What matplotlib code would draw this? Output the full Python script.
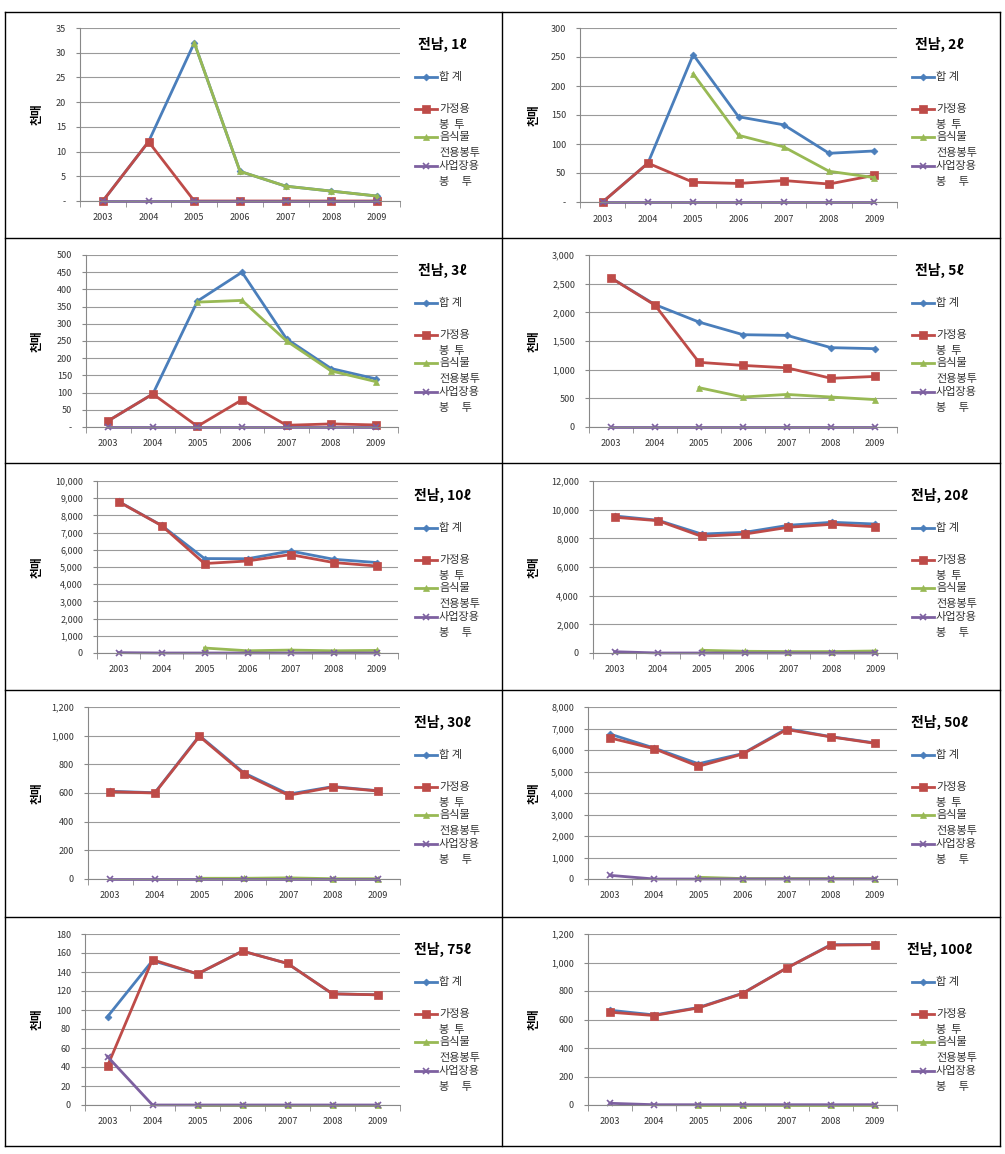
import numpy as np
import matplotlib
matplotlib.use("Agg")
from matplotlib import pyplot as plt
from matplotlib.lines import Line2D
from matplotlib.ticker import FuncFormatter, MultipleLocator, FixedLocator

plt.rcParams['font.family'] = ['Noto Sans CJK KR', 'DejaVu Sans']

years = ['2003', '2004', '2005', '2006', '2007', '2008', '2009']
series_names = ['합 계', '가정용', '음식물', '사업장용']
second_lines = ['', '봉  투', '전용봉투', '봉     투']
n = None

# ---- 전남, 1ℓ
p1_total = [0, 12, 32, 6, 3, 2, 1]
p1_home = [0, 12, 0, 0, 0, 0, 0]
p1_food = [n, n, 32, 6, 3, 2, 1]
p1_biz = [0, 0, 0, 0, 0, 0, 0]
# ---- 전남, 2ℓ
p2_total = [0, 67, 254, 147, 133, 84, 88]
p2_home = [0, 67, 34, 32, 37, 31, 46]
p2_food = [n, n, 221, 115, 95, 53, 42]
p2_biz = [0, 0, 0, 0, 0, 0, 0]
# ---- 전남, 3ℓ
p3_total = [18, 96, 366, 450, 256, 170, 140]
p3_home = [18, 96, 2, 79, 5, 9, 6]
p3_food = [n, n, 363, 368, 250, 163, 132]
p3_biz = [0, 0, 0, 0, 0, 0, 0]
# ---- 전남, 5ℓ
p4_total = [2600, 2135, 1830, 1610, 1598, 1384, 1366]
p4_home = [2600, 2125, 1128, 1074, 1033, 849, 882]
p4_food = [n, n, 686, 523, 568, 523, 478]
p4_biz = [0, 0, 0, 0, 0, 0, 0]
# ---- 전남, 10ℓ
p5_total = [8810, 7420, 5490, 5480, 5930, 5450, 5260]
p5_home = [8800, 7410, 5200, 5350, 5720, 5260, 5060]
p5_food = [n, n, 290, 130, 170, 130, 150]
p5_biz = [20, 0, 0, 0, 0, 0, 0]
# ---- 전남, 20ℓ
p6_total = [9560, 9260, 8300, 8420, 8910, 9120, 9000]
p6_home = [9470, 9230, 8140, 8300, 8770, 8980, 8810]
p6_food = [n, n, 190, 120, 100, 100, 140]
p6_biz = [90, 0, 0, 0, 0, 0, 0]
# ---- 전남, 30ℓ
p7_total = [612, 602, 1000, 740, 592, 645, 616]
p7_home = [609, 600, 995, 733, 584, 642, 614]
p7_food = [n, n, 5, 5, 8, 2, 2]
p7_biz = [2, 2, 2, 2, 2, 2, 2]
# ---- 전남, 50ℓ
p8_total = [6740, 6090, 5360, 5830, 6990, 6620, 6330]
p8_home = [6560, 6060, 5240, 5810, 6950, 6610, 6310]
p8_food = [n, n, 80, 20, 20, 20, 20]
p8_biz = [170, 0, 0, 0, 0, 0, 0]
# ---- 전남, 75ℓ
p9_total = [93, 152, 138, 162, 149, 117, 116]
p9_home = [41, 153, 138, 162, 149, 117, 116]
p9_food = [n, n, 0, 0, 0, 0, 0]
p9_biz = [51, 0, 0, 0, 0, 0, 0]
# ---- 전남, 100ℓ
p10_total = [665, 632, 684, 784, 961, 1125, 1127]
p10_home = [651, 628, 681, 782, 961, 1122, 1125]
p10_food = [n, n, 2, 2, 2, 2, 2]
p10_biz = [12, 2, 2, 2, 2, 2, 2]

titles = ['전남, 1ℓ', '전남, 2ℓ', '전남, 3ℓ', '전남, 5ℓ', '전남, 10ℓ',
          '전남, 20ℓ', '전남, 30ℓ', '전남, 50ℓ', '전남, 75ℓ', '전남, 100ℓ']
y_max = [35, 300, 500, 3000, 10000, 12000, 1200, 8000, 180, 1200]
y_step = [5, 50, 50, 500, 1000, 2000, 200, 1000, 20, 200]
dash_zero = [True, True, True, False, False, False, False, False, False, False]

panel_data = [
    (p1_total, p1_home, p1_food, p1_biz),
    (p2_total, p2_home, p2_food, p2_biz),
    (p3_total, p3_home, p3_food, p3_biz),
    (p4_total, p4_home, p4_food, p4_biz),
    (p5_total, p5_home, p5_food, p5_biz),
    (p6_total, p6_home, p6_food, p6_biz),
    (p7_total, p7_home, p7_food, p7_biz),
    (p8_total, p8_home, p8_food, p8_biz),
    (p9_total, p9_home, p9_food, p9_biz),
    (p10_total, p10_home, p10_food, p10_biz),
]

colors = ['#4A7EBB', '#BE4B48', '#98B954', '#7D60A0']
markers = ['D', 's', '^', 'x']
msizes = [3.5, 6, 5, 5]

W, H = 1005, 1154
fig = plt.figure(figsize=(W / 100, H / 100), dpi=100)

# plot area rectangles in pixels: left, right, top, bottom
rects = [
    (80, 400, 28, 201), (580, 897, 28, 202),
    (86, 398, 255, 427), (589, 897, 255, 427),
    (97, 398, 481, 653), (593, 897, 481, 653),
    (88, 400, 707, 879), (588, 897, 707, 879),
    (85, 400, 934, 1105), (588, 897, 934, 1105),
]
col_x = [5, 502, 1000]
row_y = [12, 238, 463, 690, 917, 1146]


def fx(px):
    return px / W


def fy(py):
    return 1 - py / H


# cell borders
for x in col_x:
    fig.add_artist(Line2D([fx(x), fx(x)], [fy(row_y[0]), fy(row_y[-1])], color='black', lw=1))
for y in row_y:
    fig.add_artist(Line2D([fx(col_x[0]), fx(col_x[-1])], [fy(y), fy(y)], color='black', lw=1))

x = np.arange(len(years))

for i, (data, title) in enumerate(zip(panel_data, titles)):
    l, r, t, b = rects[i]
    ax = fig.add_axes([fx(l), fy(b), (r - l) / W, (b - t) / H])
    for vals, c, m, ms in zip(data, colors, markers, msizes):
        v = np.array([np.nan if a is None else a for a in vals], dtype=float)
        ax.plot(x, v, color=c, lw=2, marker=m, markersize=ms,
                markeredgewidth=1.2 if m == 'x' else 0.5, markeredgecolor=c, clip_on=False)

    ax.set_xlim(-0.5, 6.5)
    ax.set_ylim(0, y_max[i])
    ax.yaxis.set_major_locator(MultipleLocator(y_step[i]))
    dz = dash_zero[i]
    ax.yaxis.set_major_formatter(FuncFormatter(
        lambda v, p, dz=dz: ('-' if dz else '0') if v == 0 else f'{int(round(v)):,}'))
    ax.set_xticks(x)
    ax.set_xticklabels(years)
    ax.xaxis.set_minor_locator(FixedLocator(np.arange(-0.5, 7, 1)))
    ax.tick_params(axis='x', which='major', length=0, pad=9, labelsize=6.5, labelcolor='#333333')
    ax.tick_params(axis='x', which='minor', length=4, color='#888888', direction='out')
    ax.tick_params(axis='y', length=3, color='#888888', pad=7, labelsize=6.5, labelcolor='#333333')
    ax.grid(axis='y', color='#9A9A9A', lw=0.8)
    ax.set_axisbelow(True)
    for s in ['top', 'right']:
        ax.spines[s].set_visible(False)
    for s in ['left', 'bottom']:
        ax.spines[s].set_color('#888888')
        ax.spines[s].set_linewidth(0.8)

    cx = col_x[i % 2]
    cy = row_y[i // 2]
    # y label
    fig.text(fx(cx + 32), fy((t + b) / 2), '천매', rotation=90, ha='center', va='center',
             fontsize=8.5, fontweight='bold')
    # title
    fig.text(fx(cx + 437), fy(cy + 32), title, ha='center', va='center',
             fontsize=10, fontweight='bold')
    # legend
    leg_y = [65, 97, 125, 154]
    for k in range(4):
        yy = fy(cy + leg_y[k])
        fig.add_artist(Line2D([fx(cx + 410), fx(cx + 432)], [yy, yy], color=colors[k], lw=2))
        fig.add_artist(Line2D([fx(cx + 421)], [yy], color=colors[k], marker=markers[k],
                              markersize=msizes[k], markeredgecolor=colors[k],
                              markeredgewidth=1.2 if markers[k] == 'x' else 0.5))
        fig.text(fx(cx + 434), yy, series_names[k], ha='left', va='center', fontsize=8,
                 color='#333333')
        if second_lines[k]:
            fig.text(fx(cx + 434), fy(cy + leg_y[k] + 16), second_lines[k], ha='left',
                     va='center', fontsize=8, color='#333333')

fig.savefig('out.png', dpi=100, facecolor='white')
